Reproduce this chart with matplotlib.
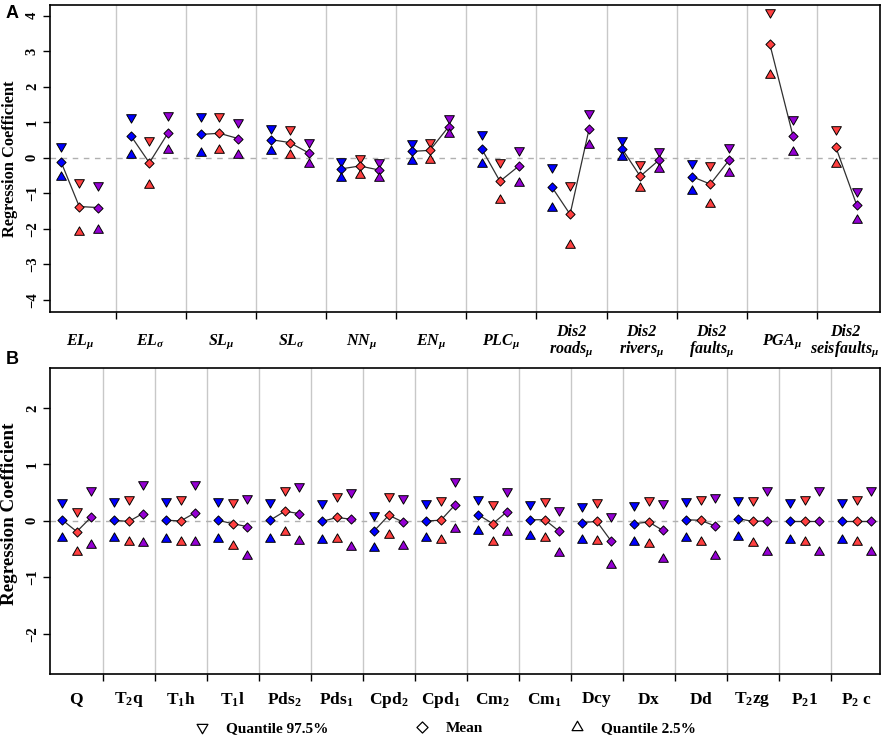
import numpy as np
import matplotlib
matplotlib.use("Agg")
import matplotlib.pyplot as plt
from matplotlib.path import Path
from matplotlib.lines import Line2D
import matplotlib.transforms as mtransforms

plt.rcParams['font.family'] = ['Liberation Serif', 'DejaVu Serif']
plt.rcParams['mathtext.fontset'] = 'custom'
plt.rcParams['mathtext.rm'] = 'Liberation Serif:bold'
plt.rcParams['mathtext.bf'] = 'Liberation Serif:bold'
plt.rcParams['mathtext.it'] = 'Liberation Serif:bold:italic'
plt.rcParams['axes.unicode_minus'] = True

nan = np.nan

# ---------------- Panel A data ----------------
cats_a = [r'$EL_{\mu}$', r'$EL_{\sigma}$', r'$SL_{\mu}$', r'$SL_{\sigma}$', r'$NN_{\mu}$',
          r'$EN_{\mu}$', r'$PLC_{\mu}$', 'Dis2\n' + r'$roads_{\mu}$', 'Dis2\n' + r'$rivers_{\mu}$',
          'Dis2\n' + r'$faults_{\mu}$', r'$PGA_{\mu}$', 'Dis2\n' + r'$seisfaults_{\mu}$']

a_blue_hi   = [0.33, 1.15, 1.19, 0.85, -0.08, 0.42, 0.67, -0.27, 0.51, -0.14, nan, nan]
a_blue_mean = [-0.11, 0.61, 0.66, 0.51, -0.31, 0.18, 0.25, -0.82, 0.26, -0.53, nan, nan]
a_blue_lo   = [-0.54, 0.07, 0.14, 0.19, -0.56, -0.10, -0.17, -1.41, 0.01, -0.92, nan, nan]

a_red_hi    = [-0.68, 0.49, 1.19, 0.81, 0.00, 0.45, -0.13, -0.77, -0.18, -0.20, 4.11, 0.81]
a_red_mean  = [-1.37, -0.14, 0.69, 0.43, -0.23, 0.21, -0.66, -1.59, -0.52, -0.74, 3.19, 0.30]
a_red_lo    = [-2.08, -0.77, 0.23, 0.09, -0.49, -0.05, -1.20, -2.46, -0.86, -1.29, 2.34, -0.18]

a_pur_hi    = [-0.77, 1.21, 1.01, 0.44, -0.12, 1.11, 0.23, 1.25, 0.19, 0.31, 1.10, -0.94]
a_pur_mean  = [-1.40, 0.71, 0.54, 0.14, -0.34, 0.88, -0.23, 0.80, -0.06, -0.06, 0.61, -1.34]
a_pur_lo    = [-2.02, 0.23, 0.08, -0.16, -0.56, 0.68, -0.70, 0.36, -0.31, -0.42, 0.16, -1.75]

# ---------------- Panel B data ----------------
cats_b = [r'$\mathrm{Q}$', r'$\mathrm{T_{2}q}$', r'$\mathrm{T_{1}h}$', r'$\mathrm{T_{1}l}$',
          r'$\mathrm{Pds_{2}}$', r'$\mathrm{Pds_{1}}$', r'$\mathrm{Cpd_{2}}$', r'$\mathrm{Cpd_{1}}$',
          r'$\mathrm{Cm_{2}}$', r'$\mathrm{Cm_{1}}$', r'$\mathrm{Dcy}$', r'$\mathrm{Dx}$',
          r'$\mathrm{Dd}$', r'$\mathrm{T_{2}zg}$', r'$\mathrm{P_{2}1}$', r'$\mathrm{P_{2}\ c}$']

b_blue_hi   = [0.34, 0.35, 0.35, 0.35, 0.34, 0.32, 0.11, 0.31, 0.38, 0.30, 0.26, 0.28, 0.35, 0.37, 0.33, 0.33]
b_blue_mean = [0.02, 0.01, 0.01, 0.01, 0.01, -0.01, -0.18, 0.00, 0.11, 0.02, -0.03, -0.05, 0.02, 0.04, 0.00, 0.00]
b_blue_lo   = [-0.30, -0.31, -0.32, -0.32, -0.32, -0.34, -0.48, -0.31, -0.18, -0.26, -0.34, -0.37, -0.31, -0.29, -0.33, -0.33]

b_red_hi    = [0.17, 0.38, 0.39, 0.34, 0.54, 0.44, 0.44, 0.37, 0.29, 0.35, 0.34, 0.37, 0.39, 0.37, 0.39, 0.39]
b_red_mean  = [-0.19, -0.01, 0.00, -0.05, 0.17, 0.06, 0.10, 0.01, -0.05, 0.02, -0.01, -0.02, 0.01, -0.01, 0.00, 0.00]
b_red_lo    = [-0.55, -0.38, -0.38, -0.44, -0.19, -0.32, -0.25, -0.33, -0.38, -0.31, -0.35, -0.41, -0.38, -0.39, -0.38, -0.38]

b_pur_hi    = [0.54, 0.65, 0.66, 0.41, 0.62, 0.51, 0.41, 0.70, 0.52, 0.19, 0.08, 0.32, 0.42, 0.54, 0.55, 0.55]
b_pur_mean  = [0.06, 0.13, 0.14, -0.10, 0.13, 0.03, -0.02, 0.28, 0.16, -0.18, -0.35, -0.17, -0.09, 0.00, 0.00, 0.00]
b_pur_lo    = [-0.42, -0.39, -0.38, -0.62, -0.35, -0.46, -0.45, -0.15, -0.19, -0.57, -0.78, -0.67, -0.62, -0.55, -0.55, -0.55]

legend_labels = ['Quantile 97.5%', 'Mean', 'Quantile 2.5%']

# ---------------- styles ----------------
COLORS = ['#0000FF', '#FF4040', '#9400D3']
s3 = np.sqrt(3) / 2
TRI_DOWN = Path([(0, -1), (s3, 0.5), (-s3, 0.5), (0, -1)], closed=True)
TRI_UP = Path([(0, 1), (s3, -0.5), (-s3, -0.5), (0, 1)], closed=True)
DIAMOND = Path([(0, 1), (1, 0), (0, -1), (-1, 0), (0, 1)], closed=True)
MS_TRI = 8.1
MS_DIA = 6.6

W, H = 886, 738
fig = plt.figure(figsize=(W / 100, H / 100), dpi=100)


def px_axes(left, top, right, bottom):
    return fig.add_axes([left / W, 1 - bottom / H, (right - left) / W, (bottom - top) / H])


def draw_panel(ax, cats, models, offsets_fn, ylim, yticks, xlim, label_y, label_size,
               ylab_size, ylab_y, label_style, label_nudge):
    n = len(cats)
    for k in range(1, n):
        ax.axvline(k, color='#c8c8c8', lw=1.0, zorder=0)
    ax.axhline(0, color='#b0b0b0', lw=1.0, ls=(0, (4, 4)), zorder=0.5)
    for g in range(n):
        present = [m for m in range(3) if not np.isnan(models[m][1][g])]
        offs = offsets_fn(g, len(present))
        xs = [g + o for o in offs]
        means = [models[m][1][g] for m in present]
        ax.plot(xs, means, color='#303030', lw=0.9, zorder=2)
        for x, m in zip(xs, present):
            hi, mean, lo = models[m][0][g], models[m][1][g], models[m][2][g]
            kw = dict(ls='none', mfc=COLORS[m], mec='black', mew=0.7, zorder=3)
            ax.plot([x], [hi], marker=TRI_DOWN, ms=MS_TRI, **kw)
            ax.plot([x], [mean], marker=DIAMOND, ms=MS_DIA, **kw)
            ax.plot([x], [lo], marker=TRI_UP, ms=MS_TRI, **kw)
    ax.set_xlim(*xlim)
    ax.set_ylim(*ylim)
    ax.set_xticks(np.arange(1, n))
    ax.set_yticks(yticks)
    ax.tick_params(axis='x', direction='out', length=5, width=1.0, labelbottom=False)
    ax.tick_params(axis='y', direction='out', length=5, width=1.0, labelsize=10.5,
                   labelrotation=90, pad=3)
    for t in ax.get_yticklabels():
        t.set_fontweight('bold')
        t.set_va('center')
    for s in ax.spines.values():
        s.set_linewidth(1.2)
    trans = mtransforms.blended_transform_factory(ax.transData, ax.transAxes)
    for g, c in enumerate(cats):
        ax.text(g + 0.5 + label_nudge.get(g, 0.0), label_y, c, transform=trans,
                ha='center', va='center', fontsize=label_size, fontweight='bold',
                fontstyle=label_style, linespacing=1.0)
    ax.set_ylabel('Regression Coefficient', fontsize=ylab_size, fontweight='bold', va='center')
    ax.yaxis.set_label_coords(-0.0486, ylab_y)


def offsets_a(g, npresent):
    if npresent == 3:
        return [0.22, 0.48, 0.75]
    if g == len(cats_a) - 1:
        return [0.27, 0.57]
    return [0.33, 0.66]


def offsets_b(g, npresent):
    return [0.22, 0.505, 0.775]


models_a = [(a_blue_hi, a_blue_mean, a_blue_lo),
            (a_red_hi, a_red_mean, a_red_lo),
            (a_pur_hi, a_pur_mean, a_pur_lo)]
models_b = [(b_blue_hi, b_blue_mean, b_blue_lo),
            (b_red_hi, b_red_mean, b_red_lo),
            (b_pur_hi, b_pur_mean, b_pur_lo)]

axA = px_axes(50, 5, 880, 311.7)
draw_panel(axA, cats_a, models_a, offsets_a, (-4.33, 4.30), np.arange(-4, 5, 1),
           (0.063, 11.90), -0.097, 11.5, 11.8, 0.5, 'italic', {11: -0.1})

axB = px_axes(50, 368.3, 880, 674)
draw_panel(axB, cats_b, models_b, offsets_b, (-2.71, 2.70), np.arange(-2, 3, 1),
           (-0.01, 15.95), -0.085, 12.5, 13.8, 0.523, 'normal', {})

fig.text(12 / W, 1 - 13 / H, 'A', family='Liberation Sans', fontweight='bold', fontsize=13,
         ha='center', va='center')
fig.text(12 / W, 1 - 359 / H, 'B', family='Liberation Sans', fontweight='bold', fontsize=13,
         ha='center', va='center')

handles = [Line2D([], [], ls='none', marker=TRI_DOWN, ms=9, mfc='white', mec='black', mew=0.9),
           Line2D([], [], ls='none', marker=DIAMOND, ms=8, mfc='white', mec='black', mew=0.9),
           Line2D([], [], ls='none', marker=TRI_UP, ms=9, mfc='white', mec='black', mew=0.9)]
fig.legend(handles, legend_labels, loc='center', bbox_to_anchor=(445 / W, 1 - 728 / H),
           ncol=3, frameon=False, handlelength=1.0, handletextpad=1.1, columnspacing=5.6,
           borderpad=0, prop={'family': 'Liberation Serif', 'weight': 'bold', 'size': 11})

fig.savefig('out.png', dpi=100)
